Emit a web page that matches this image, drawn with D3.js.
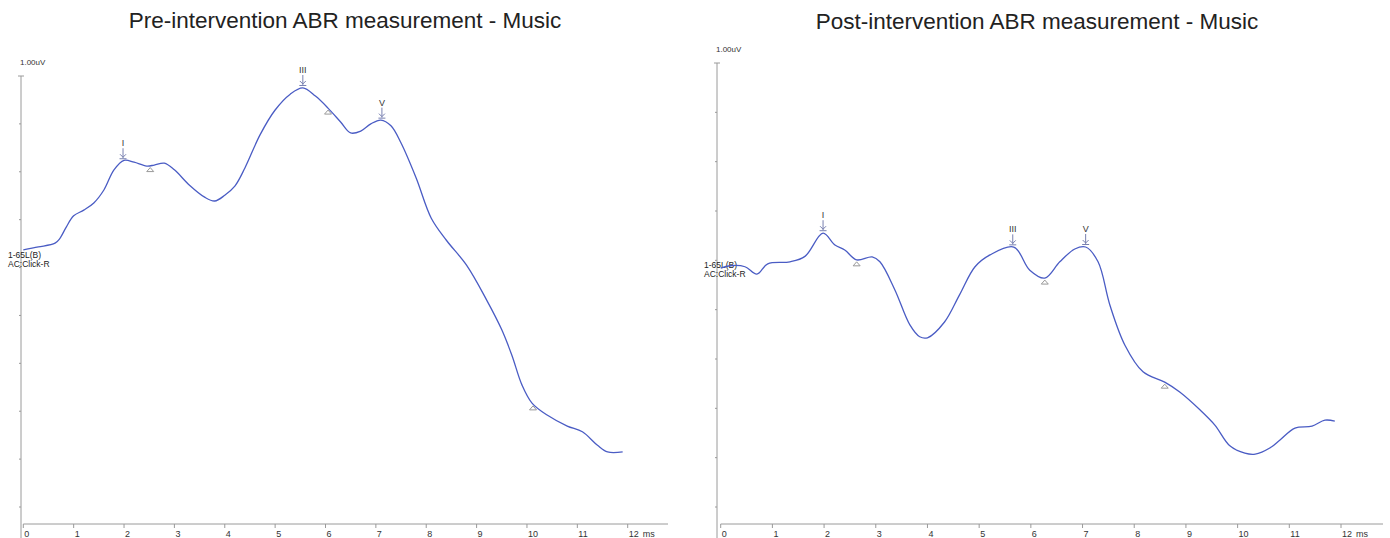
<!DOCTYPE html>
<html>
<head>
<meta charset="utf-8">
<script src="https://cdn.jsdelivr.net/npm/d3@7"></script>
<style>
  body { margin: 0; background: #fff; }
  text { font-family: "Liberation Sans", Arial, sans-serif; }
</style>
</head>
<body>
<div id="chart"></div>
<script>
// ABR waveforms, time in ms, amplitude in uV

const timeTicks = [0, 1, 2, 3, 4, 5, 6, 7, 8, 9, 10, 11, 12];
const ampTicks = [0, 0.1, 0.2, 0.3, 0.4, 0.5, 0.6, 0.7, 0.8, 0.9];
const peakNames = ["I", "III", "V"];

// pre-intervention
const preTime = [0, 0.3, 0.63, 0.72, 0.85, 1.0, 1.2, 1.4, 1.6, 1.8, 2.0, 2.2, 2.45, 2.6, 2.8, 3.0, 3.3, 3.6, 3.8, 4.0, 4.2, 4.4, 4.7, 5.0, 5.3, 5.55, 5.8, 6.05, 6.3, 6.5, 6.7, 6.9, 7.1, 7.3, 7.5, 7.8, 8.1, 8.4, 8.8, 9.2, 9.5, 9.7, 9.9, 10.1, 10.4, 10.8, 11.1, 11.4, 11.6, 11.9];
const preAmp = [0.537, 0.543, 0.551, 0.560, 0.584, 0.608, 0.620, 0.635, 0.662, 0.704, 0.724, 0.720, 0.712, 0.714, 0.718, 0.704, 0.672, 0.647, 0.639, 0.651, 0.670, 0.708, 0.777, 0.829, 0.862, 0.875, 0.858, 0.833, 0.804, 0.781, 0.785, 0.800, 0.808, 0.796, 0.760, 0.687, 0.603, 0.557, 0.505, 0.432, 0.370, 0.317, 0.255, 0.217, 0.192, 0.169, 0.157, 0.129, 0.115, 0.115];
const prePeaks = [1.98, 5.55, 7.12];
const preTroughs = [2.52, 6.05, 10.12];

// post-intervention
const postTime = [0, 0.18, 0.47, 0.70, 0.91, 1.34, 1.63, 1.98, 2.21, 2.40, 2.63, 2.93, 3.08, 3.37, 3.66, 3.85, 4.0, 4.33, 4.62, 4.92, 5.21, 5.67, 5.98, 6.27, 6.56, 6.85, 7.06, 7.30, 7.53, 7.82, 8.17, 8.59, 8.88, 9.27, 9.56, 9.85, 10.14, 10.34, 10.63, 10.82, 11.11, 11.44, 11.69, 11.88];
const postAmp = [0.484, 0.489, 0.487, 0.472, 0.493, 0.497, 0.508, 0.555, 0.531, 0.521, 0.501, 0.507, 0.497, 0.440, 0.369, 0.345, 0.343, 0.375, 0.430, 0.487, 0.511, 0.527, 0.480, 0.464, 0.497, 0.523, 0.527, 0.497, 0.409, 0.328, 0.274, 0.253, 0.233, 0.197, 0.166, 0.124, 0.109, 0.107, 0.120, 0.136, 0.160, 0.164, 0.176, 0.174];
const postPeaks = [1.98, 5.65, 7.06];
const postTroughs = [2.63, 6.27, 8.59];

const W = 1390, H = 538;
const lineColor = "#4a5cc4";
const axisColor = "#9a9a9a";
const markColor = "#7880b0";

const svg = d3.select("#chart").append("svg")
    .attr("width", W).attr("height", H);

const panels = [
  {title: "Pre-intervention ABR measurement - Music", cx: 345, titleY: 28,
   axisX: 21, x0: 23.3, x12: 627.7, xEnd: 668, yTop: 76, yZero: 507, xAxisY: 524,
   labelY: 258, time: preTime, amp: preAmp, peaks: prePeaks, troughs: preTroughs},
  {title: "Post-intervention ABR measurement - Music", cx: 1037, titleY: 29,
   axisX: 717, x0: 720.7, x12: 1341, xEnd: 1383, yTop: 63, yZero: 507, xAxisY: 524,
   labelY: 268, time: postTime, amp: postAmp, peaks: postPeaks, troughs: postTroughs}
];

function ampAt(p, t) {
  // linear lookup on the sampled trace
  const i = Math.max(1, Math.min(p.time.length - 1, d3.bisectLeft(p.time, t)));
  const t0 = p.time[i - 1], t1 = p.time[i];
  const k = (t - t0) / (t1 - t0);
  return p.amp[i - 1] + k * (p.amp[i] - p.amp[i - 1]);
}

panels.forEach(p => {
  const x = d3.scaleLinear().domain([0, 12]).range([p.x0, p.x12]);
  const y = d3.scaleLinear().domain([0, 0.9]).range([p.yZero, p.yTop]);
  const g = svg.append("g");

  // title
  g.append("text")
      .attr("x", p.cx).attr("y", p.titleY)
      .attr("text-anchor", "middle")
      .style("font-size", "22.5px").style("fill", "#222")
      .text(p.title);

  // y axis (no numbers, only minor ticks)
  g.append("line")
      .attr("x1", p.axisX).attr("x2", p.axisX)
      .attr("y1", p.yTop).attr("y2", H)
      .attr("stroke", axisColor).attr("stroke-width", 1);
  g.append("line")
      .attr("x1", p.axisX - 3).attr("x2", p.axisX + 3)
      .attr("y1", p.yTop).attr("y2", p.yTop)
      .attr("stroke", axisColor);
  g.selectAll(".ytick")
      .data(ampTicks.slice(0, -1))
      .enter().append("line")
        .attr("x1", p.axisX - 2).attr("x2", p.axisX)
        .attr("y1", d => y(d)).attr("y2", d => y(d))
        .attr("stroke", axisColor);
  g.append("text")
      .attr("x", p.axisX - 1).attr("y", p.yTop - 11)
      .style("font-size", "8px").style("fill", "#333")
      .text("1.00uV");

  // x axis
  g.append("line")
      .attr("x1", x(0)).attr("x2", p.xEnd)
      .attr("y1", p.xAxisY).attr("y2", p.xAxisY)
      .attr("stroke", axisColor);
  g.selectAll(".xtick")
      .data(timeTicks)
      .enter().append("line")
        .attr("x1", d => x(d)).attr("x2", d => x(d))
        .attr("y1", p.xAxisY).attr("y2", p.xAxisY + 4)
        .attr("stroke", axisColor);
  g.selectAll(".xlabel")
      .data(timeTicks)
      .enter().append("text")
        .attr("x", d => x(d) + 1).attr("y", p.xAxisY + 13)
        .style("font-size", "9px").style("fill", "#333")
        .text(d => d);
  g.append("text")
      .attr("x", x(12) + 15).attr("y", p.xAxisY + 13)
      .style("font-size", "9px").style("fill", "#333")
      .text("ms");

  // channel labels
  g.append("text")
      .attr("x", p.axisX - 13).attr("y", p.labelY)
      .style("font-size", "8.5px").style("fill", "#222")
      .text("1-65L(B)");
  g.append("text")
      .attr("x", p.axisX - 13).attr("y", p.labelY + 9)
      .style("font-size", "8.5px").style("fill", "#222")
      .text("AC:Click-R");

  // waveform
  const line = d3.line()
      .x((d, i) => x(p.time[i]))
      .y(d => y(d))
      .curve(d3.curveCatmullRom.alpha(0.5));
  g.append("path")
      .attr("d", line(p.amp))
      .attr("fill", "none")
      .attr("stroke", lineColor)
      .attr("stroke-width", 1.3);

  // peak arrows + labels
  p.peaks.forEach((t, i) => {
    const px = x(t), py = y(ampAt(p, t));
    g.append("text")
        .attr("x", px).attr("y", py - 15)
        .attr("text-anchor", "middle")
        .style("font-size", "9px").style("fill", "#333")
        .text(peakNames[i]);
    g.append("path")
        .attr("d", `M${px},${py - 13}V${py - 3}M${px - 3},${py - 7}L${px},${py - 4}L${px + 3},${py - 7}M${px - 3.5},${py - 2.5}H${px + 3.5}`)
        .attr("fill", "none").attr("stroke", markColor).attr("stroke-width", 1);
  });

  // trough triangles
  p.troughs.forEach(t => {
    const px = x(t), py = y(ampAt(p, t)) + 2;
    g.append("path")
        .attr("d", `M${px},${py}L${px + 3.5},${py + 4}L${px - 3.5},${py + 4}Z`)
        .attr("fill", "none").attr("stroke", "#999").attr("stroke-width", 1);
  });
});
</script>
</body>
</html>
